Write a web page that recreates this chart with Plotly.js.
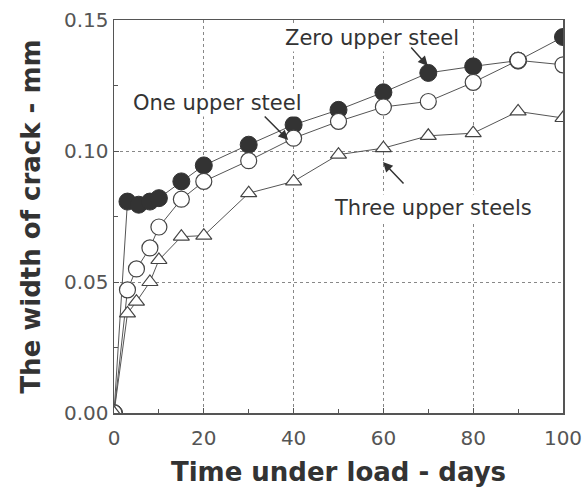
<!DOCTYPE html>
<html>
<head>
<meta charset="utf-8">
<script src="https://cdn.plot.ly/plotly-3.0.1.min.js"></script>
<style>html,body{margin:0;padding:0;background:#fff;}#chart{width:584px;height:488px;}</style>
</head>
<body>
<div id="chart"></div>
<script>
// Days under load
const daysZero  = [0, 3, 5.5, 8, 10, 15, 20, 30, 40, 50, 60, 70, 80, 90, 100];
const widthZero = [0, 0.0807, 0.0795, 0.0807, 0.082, 0.0884, 0.0945, 0.1024, 0.110, 0.1157, 0.1224, 0.1298, 0.1323, 0.1345, 0.1435];

const daysOne  = [0, 3, 5, 8, 10, 15, 20, 30, 40, 50, 60, 70, 80, 90, 100];
const widthOne = [0, 0.047, 0.055, 0.063, 0.071, 0.0816, 0.0884, 0.0963, 0.1049, 0.1113, 0.1168, 0.1189, 0.1262, 0.1346, 0.1329];

const daysThree  = [0, 3, 5, 8, 10, 15, 20, 30, 40, 50, 60, 70, 80, 90, 100];
const widthThree = [0, 0.038, 0.0425, 0.050, 0.0584, 0.0673, 0.0677, 0.0839, 0.0884, 0.0986, 0.1011, 0.1058, 0.1068, 0.1151, 0.1126];

const seriesNames = ["Zero upper steel", "One upper steel", "Three upper steels"];
const xTicks = [0, 20, 40, 60, 80, 100];
const yTicks = [0, 0.05, 0.10, 0.15];
const yTickText = ["0.00", "0.05", "0.10", "0.15"];

const lineStyle = {color: '#555', width: 1};

const traces = [
  {x: daysZero, y: widthZero, name: seriesNames[0], mode: 'lines+markers', line: lineStyle,
   marker: {symbol: 'circle', size: 17, color: '#333', line: {color: '#333', width: 1}}},
  {x: daysOne, y: widthOne, name: seriesNames[1], mode: 'lines+markers', line: lineStyle,
   marker: {symbol: 'circle', size: 16, color: '#fff', line: {color: '#444', width: 1.2}}},
  {x: daysThree, y: widthThree, name: seriesNames[2], mode: 'lines+markers', line: lineStyle,
   marker: {symbol: 'triangle-up', size: 14, color: '#fff', line: {color: '#444', width: 1.2}}}
];

const labelFont = {family: 'DejaVu Sans', size: 21, color: '#333'};

const layout = {
  width: 584, height: 488,
  margin: {l: 114, r: 21, t: 20, b: 75},
  paper_bgcolor: '#fff', plot_bgcolor: '#fff',
  showlegend: false,
  font: {family: 'DejaVu Sans', color: '#444'},
  xaxis: {
    range: [0, 100], tickvals: xTicks, ticktext: xTicks.map(String),
    ticks: 'inside', ticklen: 5, tickcolor: '#555', ticklabelstandoff: 6,
    minor: {dtick: 10, ticks: 'inside', ticklen: 4, tickcolor: '#555', showgrid: false},
    showgrid: true, gridcolor: '#888', griddash: 'dot', gridwidth: 1,
    showline: true, linecolor: '#555', linewidth: 1.5, mirror: true, zeroline: false,
    tickfont: {family: 'DejaVu Sans', size: 20, color: '#555'},
    title: {text: 'Time under load - days', font: {family: 'DejaVu Sans', size: 26, color: '#333', weight: 'bold'}, standoff: 14}
  },
  yaxis: {
    range: [0, 0.15], tickvals: yTicks, ticktext: yTickText,
    ticks: 'inside', ticklen: 5, tickcolor: '#555',
    minor: {dtick: 0.025, ticks: 'inside', ticklen: 4, tickcolor: '#555', showgrid: false},
    showgrid: true, gridcolor: '#888', griddash: 'dot', gridwidth: 1,
    showline: true, linecolor: '#555', linewidth: 1.5, mirror: true, zeroline: false,
    tickfont: {family: 'DejaVu Sans', size: 20, color: '#555'},
    title: {text: 'The width of crack - mm', font: {family: 'DejaVu Sans', size: 26, color: '#333', weight: 'bold'}, standoff: 16}
  },
  annotations: [
    {x: 57.5, y: 0.1431, text: seriesNames[0], showarrow: false, font: labelFont, bgcolor: '#fff'},
    {x: 22.9, y: 0.1183, text: seriesNames[1], showarrow: false, font: labelFont, bgcolor: '#fff'},
    {x: 71.0, y: 0.0782, text: seriesNames[2], showarrow: false, font: labelFont, bgcolor: '#fff'},
    {x: 69.9, y: 0.1324, text: '', showarrow: true, ax: -18, ay: -20, arrowhead: 2, arrowsize: 1.3, arrowwidth: 1.5, arrowcolor: '#333'},
    {x: 38.8, y: 0.1042, text: '', showarrow: true, ax: -25, ay: -25, arrowhead: 2, arrowsize: 1.3, arrowwidth: 1.5, arrowcolor: '#333'},
    {x: 59.9, y: 0.0958, text: '', showarrow: true, ax: 22, ay: 23, arrowhead: 2, arrowsize: 1.3, arrowwidth: 1.5, arrowcolor: '#333'}
  ]
};

Plotly.newPlot('chart', traces, layout, {displayModeBar: false, staticPlot: true});
</script>
</body>
</html>
